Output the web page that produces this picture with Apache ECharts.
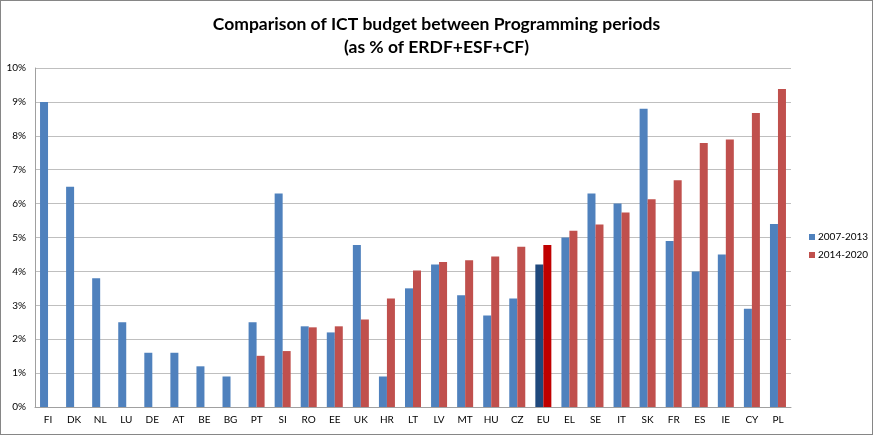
<!DOCTYPE html>
<html>
<head>
<meta charset="utf-8">
<script src="https://cdn.jsdelivr.net/npm/echarts@6/dist/echarts.min.js"></script>
<style>
html,body{margin:0;padding:0;background:#fff;}
#c{width:873px;height:435px;box-sizing:border-box;border:1px solid #868686;}
</style>
</head>
<body>
<div id="c"></div>
<script>
const categories = ['FI','DK','NL','LU','DE','AT','BE','BG','PT','SI','RO','EE','UK','HR','LT','LV','MT','HU','CZ','EU','EL','SE','IT','SK','FR','ES','IE','CY','PL'];
const period2007 = [9.0,6.5,3.8,2.5,1.6,1.6,1.2,0.9,2.5,6.3,2.38,2.2,4.78,0.9,3.5,4.2,3.3,2.7,3.2,4.2,5.0,6.3,6.0,8.8,4.9,4.0,4.5,2.9,5.4];
const period2014 = [null,null,null,null,null,null,null,null,1.51,1.65,2.35,2.38,2.58,3.2,4.03,4.28,4.33,4.44,4.73,4.78,5.2,5.38,5.74,6.13,6.69,7.79,7.89,8.67,9.38];
const seriesNames = ['2007-2013','2014-2020'];
const yTicks = [0,1,2,3,4,5,6,7,8,9,10];
const highlightCategory = 'EU';

const FONT = 'Lato, "Open Sans", sans-serif';
const blue = '#4F81BD', red = '#C0504D', blueDark = '#1F497D', redDark = '#C00000';

function build(values, hi) {
  return values.map((v, i) => categories[i] === highlightCategory
    ? {value: v, itemStyle: {color: hi}}
    : (v === null ? '-' : v));
}

const chart = echarts.init(document.getElementById('c'), null, {renderer: 'canvas'});
chart.setOption({
  animation: false,
  backgroundColor: '#fff',
  title: {
    text: 'Comparison of ICT budget between Programming periods\n(as % of ERDF+ESF+CF)',
    left: 'center',
    top: 7,
    textStyle: {fontFamily: FONT, fontWeight: 'bold', fontSize: 17.5, color: '#000', lineHeight: 23}
  },
  legend: {
    orient: 'vertical',
    left: 803,
    top: 226,
    icon: 'rect',
    itemWidth: 6,
    itemHeight: 6,
    itemGap: 8,
    textStyle: {fontFamily: FONT, fontSize: 10, color: '#000', padding: [0,0,0,-2]},
    data: seriesNames
  },
  grid: {left: 34, right: 81, top: 67, bottom: 27, containLabel: false},
  xAxis: {
    type: 'category',
    data: categories,
    axisLine: {lineStyle: {color: '#A0A0A0'}},
    axisTick: {show: false},
    axisLabel: {fontFamily: FONT, fontSize: 10, color: '#000', margin: 8, interval: 0}
  },
  yAxis: {
    type: 'value',
    min: yTicks[0],
    max: yTicks[yTicks.length - 1],
    interval: 1,
    axisLine: {show: true, lineStyle: {color: '#A0A0A0'}},
    axisTick: {show: false},
    splitLine: {lineStyle: {color: '#BFBFBF'}},
    axisLabel: {fontFamily: FONT, fontSize: 10, color: '#000', margin: 9, formatter: v => v + '%'}
  },
  series: [
    {name: seriesNames[0], type: 'bar', data: build(period2007, blueDark), itemStyle: {color: blue}, barWidth: 8, barGap: '0%'},
    {name: seriesNames[1], type: 'bar', data: build(period2014, redDark), itemStyle: {color: red}, barWidth: 8, barGap: '0%'}
  ]
});
</script>
</body>
</html>
